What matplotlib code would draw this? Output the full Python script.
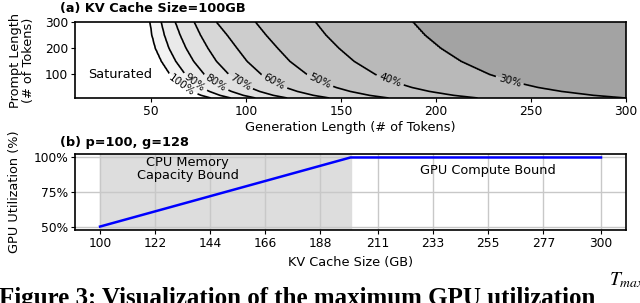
import numpy as np
import matplotlib
matplotlib.use("Agg")
import matplotlib.pyplot as plt
from matplotlib.ticker import FuncFormatter

# (a) generation length (# of tokens) at which each utilization contour is
# crossed for a handful of prompt lengths
prompt_rows = [10, 20, 35, 50, 75, 100, 150, 200, 250, 300]
util_levels = [1.0, 0.9, 0.8, 0.7, 0.6, 0.5, 0.4, 0.3]
level_labels = ["100%", "90%", "80%", "70%", "60%", "50%", "40%", "30%"]
g_cross = [
    [81.5, 91.9, 104.9, 121.6, 143.8, 175.0, 221.8, 299.7],   # p=10
    [76.5, 86.3, 98.6, 114.4, 135.5, 165.0, 209.3, 283.0],    # p=20
    [71.4, 80.7, 92.3, 107.1, 127.0, 154.8, 196.5, 266.0],    # p=35
    [67.7, 76.6, 87.6, 101.9, 120.8, 147.4, 187.3, 253.7],    # p=50
    [63.3, 71.6, 82.1, 95.5, 113.4, 138.5, 176.1, 238.8],     # p=75
    [60.0, 68.0, 78.0, 90.9, 108.0, 132.0, 168.0, 228.0],     # p=100
    [55.5, 63.0, 72.4, 84.4, 100.5, 123.0, 156.8, 213.0],     # p=150
    [52.3, 59.4, 68.4, 79.9, 95.2, 116.6, 148.8, 202.3],      # p=200
    [50.5, 57.0, 65.3, 76.0, 90.0, 110.5, 142.0, 194.0],      # p=250
    [49.5, 55.3, 62.7, 72.7, 84.3, 104.9, 136.5, 187.7],      # p=300
]
label_spots = [(66, 55), (73, 68), (84, 66), (97, 72), (115, 74),
               (139, 78), (176, 80), (239, 80)]

# (b) p=100, g=128
kv_cache_gb = [100, 200, 300]
gpu_util_pct = [50, 100, 100]
kv_ticks = [100, 122, 144, 166, 188, 211, 233, 255, 277, 300]
util_ticks = [50, 75, 100]

band_colors = ["#a3a3a3", "#b9b9b9", "#c3c3c3", "#cdcdcd", "#d7d7d7",
               "#e1e1e1", "#eaeaea", "#f3f3f3", "#ffffff"]

plt.rcParams["font.family"] = "DejaVu Sans"
plt.rcParams["font.size"] = 9.3
plt.rcParams["xtick.labelsize"] = 8.8
plt.rcParams["ytick.labelsize"] = 8.8
plt.rcParams["mathtext.fontset"] = "stix"

fig = plt.figure(figsize=(6.4, 3.03), dpi=100)
ax1 = fig.add_axes([0.1172, 0.6766, 0.861, 0.2508])
ax2 = fig.add_axes([0.1172, 0.2409, 0.861, 0.2508])

# --- (a) contour map: grid built so the contours pass through the read crossings
gen_len = np.linspace(10, 300, 291)
prompt_len = np.linspace(10, 300, 291)
cross = np.array(g_cross)
cross_fine = np.column_stack([np.interp(prompt_len, prompt_rows, cross[:, k])
                              for k in range(len(util_levels))])
field = np.array([
    np.interp(gen_len, [0] + list(row) + [400], [1.5] + util_levels + [0.2])
    for row in cross_fine
])
fill_levels = [0, 0.3, 0.4, 0.5, 0.6, 0.7, 0.8, 0.9, 1.0, 2.0]
ax1.contourf(gen_len, prompt_len, field, levels=fill_levels, colors=band_colors)
cs = ax1.contour(gen_len, prompt_len, field, levels=sorted(util_levels),
                 colors="black", linewidths=1.2)
fmt = dict(zip(util_levels, level_labels))
ax1.clabel(cs, fmt=fmt, manual=label_spots, fontsize=7.5, inline=True,
           inline_spacing=3)
ax1.text(34, 100, "Saturated", ha="center", va="center")
ax1.set_xlim(10, 300)
ax1.set_ylim(10, 300)
ax1.set_xticks([50, 100, 150, 200, 250, 300])
ax1.set_yticks([100, 200, 300])
ax1.set_xlabel("Generation Length (# of Tokens)", labelpad=2)
ax1.set_ylabel("Prompt Length\n(# of Tokens)", labelpad=7, linespacing=1.0)
ax1.set_title("(a) KV Cache Size=100GB", loc="left", fontweight="bold",
              fontsize=9.3, x=-0.027, pad=7)

# --- (b) utilization vs KV cache size
ax2.axvspan(100, 200, color="#dddddd", zorder=0)
ax2.grid(True, color="#c8c8c8", linewidth=1.0, zorder=0.5)
ax2.set_axisbelow(True)
ax2.plot(kv_cache_gb, gpu_util_pct, color="blue", linewidth=1.8, zorder=3)
ax2.set_xticks(kv_ticks)
ax2.set_xticklabels([str(v) for v in kv_ticks])
ax2.set_yticks(util_ticks)
ax2.yaxis.set_major_formatter(FuncFormatter(lambda v, _: f"{int(v)}%"))
ax2.text(135, 91.5, "CPU Memory\nCapacity Bound", ha="center", va="center",
         linespacing=1.0)
ax2.text(255, 90.3, "GPU Compute Bound", ha="center", va="center")
ax2.set_xlabel("KV Cache Size (GB)", labelpad=4)
ax2.set_ylabel("GPU Utilization (%)", labelpad=9)
ax2.set_title("(b) p=100, g=128", loc="left", fontweight="bold",
              fontsize=9.3, x=-0.027, pad=6)

for ax in (ax1, ax2):
    for s in ax.spines.values():
        s.set_linewidth(1.2)
    ax.tick_params(length=3, pad=2)

# caption of the paper, clipped by the bottom edge
fig.text(-0.002, 1 - 287 / 303, "Figure 3: Visualization of the maximum GPU utilization",
         family="Liberation Serif", fontweight="bold", fontsize=18, va="top")
fig.text(0.952, 1 - 270 / 303, "$T_{max}$", fontsize=14, va="top")

fig.savefig("out.png", dpi=100)
